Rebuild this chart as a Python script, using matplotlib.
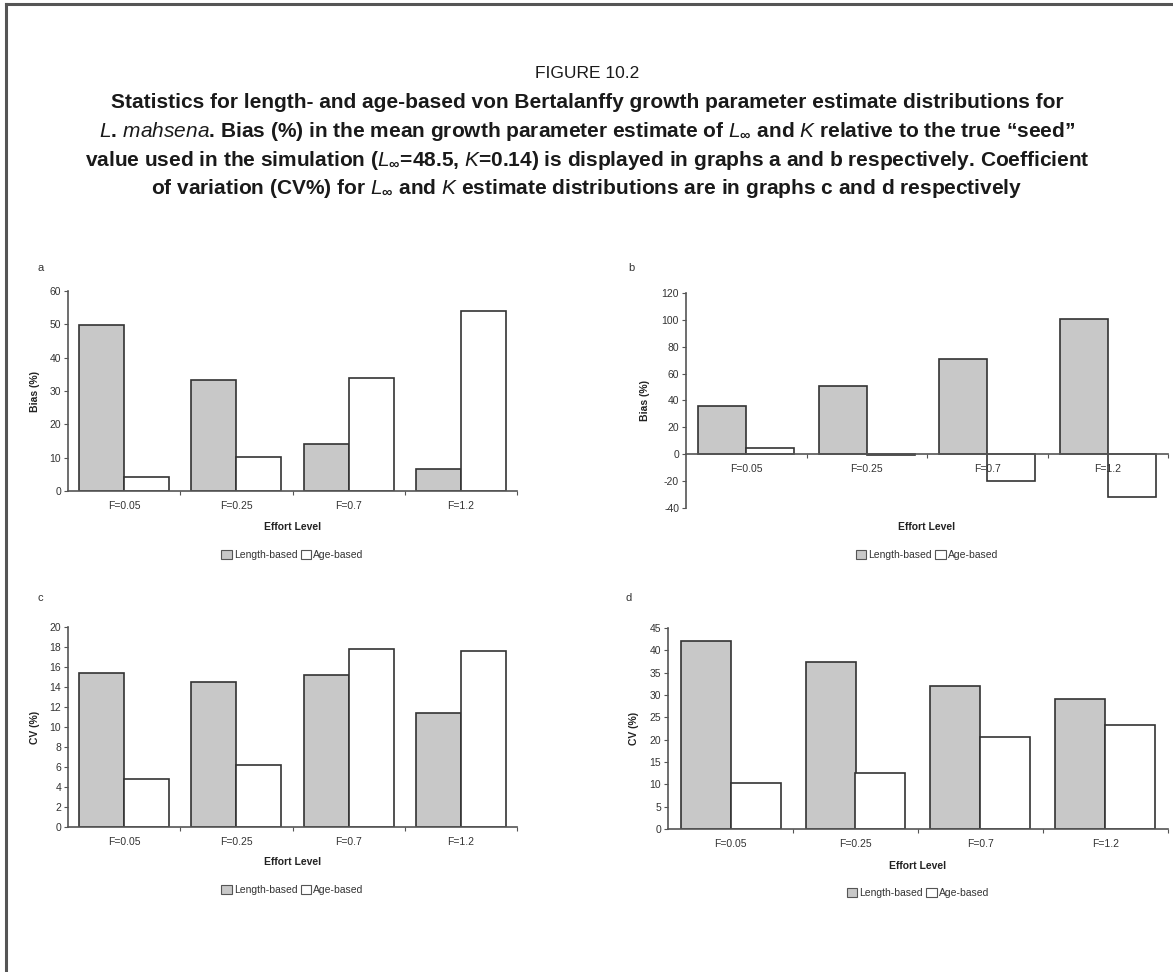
import numpy as np
import matplotlib
matplotlib.use("Agg")
import matplotlib.pyplot as plt
from matplotlib.lines import Line2D
from matplotlib.patches import Patch

# data
efforts = ["F=0.05", "F=0.25", "F=0.7", "F=1.2"]
series = ["Length-based", "Age-based"]

# a: bias of L-inf
a_length = [49.7, 33.4, 14.2, 6.5]
a_age = [4.1, 10.1, 33.8, 53.9]
# b: bias of K
b_length = [36, 50.5, 71, 101]
b_age = [4.5, -0.5, -20, -31.5]
# c: CV of L-inf
c_length = [15.4, 14.5, 15.2, 11.4]
c_age = [4.8, 6.2, 17.8, 17.6]
# d: CV of K
d_length = [42, 37.3, 32, 29]
d_age = [10.3, 12.5, 20.5, 23.2]

plt.rcParams['font.family'] = ['Liberation Sans', 'DejaVu Sans']
plt.rcParams['axes.unicode_minus'] = False
plt.rcParams['mathtext.fontset'] = 'custom'
plt.rcParams['mathtext.it'] = 'Liberation Sans:italic'
plt.rcParams['mathtext.rm'] = 'Liberation Sans:bold'
plt.rcParams['mathtext.bf'] = 'Liberation Sans:bold'

W, H = 1173, 972
fig = plt.figure(figsize=(W / 100, H / 100), dpi=100)

# frame lines (top and left, page crop)
fig.add_artist(Line2D([6 / W, 6 / W], [0, 1 - 4 / H], color='#555555', lw=2.2))
fig.add_artist(Line2D([6 / W, 1], [1 - 4 / H, 1 - 4 / H], color='#555555', lw=2.2))

fig.text(587 / W, 1 - 73 / H, "FIGURE 10.2", ha='center', va='center',
         fontsize=12.5, color='#1a1a1a')
lines = [
    "Statistics for length- and age-based von Bertalanffy growth parameter estimate distributions for",
    r"$\mathit{L.\,mahsena}$. Bias (%) in the mean growth parameter estimate of $\mathit{L}_{\infty}$ and $\mathit{K}$ relative to the true " + "\u201cseed\u201d",
    r"value used in the simulation ($\mathit{L}_{\infty}$=48.5, $\mathit{K}$=0.14) is displayed in graphs a and b respectively. Coefficient",
    r"of variation (CV%) for $\mathit{L}_{\infty}$ and $\mathit{K}$ estimate distributions are in graphs c and d respectively",
]
for i, s in enumerate(lines):
    fig.text(587 / W, 1 - (103 + 28.5 * i) / H, s, ha='center', va='center',
             fontsize=15, fontweight='bold', color='#1a1a1a')


def panel(rect, letter, lpos, length, age, ylim, step, ylabel, ylab_x, xlab_y, leg_y, zero_axis=False):
    ax = fig.add_axes([rect[0] / W, 1 - rect[3] / H, (rect[1] - rect[0]) / W, (rect[3] - rect[2]) / H])
    x = np.arange(len(efforts))
    ax.bar(x - 0.2, length, width=0.4, color='#c8c8c8', edgecolor='#333333', lw=1.2, zorder=2)
    ax.bar(x + 0.2, age, width=0.4, color='white', edgecolor='#333333', lw=1.2, zorder=2)
    ax.set_axisbelow(False)
    ax.set_xlim(-0.5, 3.5)
    ax.set_ylim(*ylim)
    ax.set_yticks(np.arange(ylim[0], ylim[1] + step / 2, step))
    for s in ['top', 'right']:
        ax.spines[s].set_visible(False)
    for s in ['left', 'bottom']:
        ax.spines[s].set_color('#555555')
        ax.spines[s].set_linewidth(1.2)
    if zero_axis:
        ax.spines['bottom'].set_position(('data', 0))
    ax.set_xticks([0.5, 1.5, 2.5, 3.5])
    ax.set_xticklabels([])
    ax.tick_params(axis='x', which='major', length=3, color='#555555', direction='out')
    ax.set_xticks(x, minor=True)
    ax.set_xticklabels(efforts, minor=True, fontsize=7.5, color='#333333')
    ax.tick_params(axis='x', which='minor', length=0, pad=7)
    ax.tick_params(axis='y', length=3, labelsize=7.5, labelcolor='#333333', color='#555555', pad=2)
    ax.patch.set_visible(False)

    fig.text(lpos[0] / W, 1 - lpos[1] / H, letter, ha='left', va='center', fontsize=8, color='#333333')
    fig.text(ylab_x / W, 1 - (rect[2] + rect[3]) / 2 / H, ylabel, rotation=90, ha='center', va='center',
             fontsize=7.5, fontweight='bold', color='#222222')
    cx = (rect[0] + rect[1]) / 2
    fig.text(cx / W, 1 - xlab_y / H, "Effort Level", ha='center', va='center',
             fontsize=7.5, fontweight='bold', color='#222222')
    handles = [Patch(facecolor='#c8c8c8', edgecolor='#555555', lw=0.8),
               Patch(facecolor='white', edgecolor='#555555', lw=0.8)]
    fig.legend(handles, series, loc='center', bbox_to_anchor=(cx / W, 1 - leg_y / H), ncol=2,
               frameon=False, fontsize=7.5, handlelength=1.0, handleheight=1.0,
               handletextpad=0.2, columnspacing=0.3, labelcolor='#333333')
    return ax


panel((68, 517, 291, 491), "a", (38, 268), a_length, a_age, (0, 60), 10, "Bias (%)", 35, 527, 555)
panel((686, 1168, 293, 508), "b", (628, 268), b_length, b_age, (-40, 120), 20, "Bias (%)", 645, 527, 555,
      zero_axis=True)
panel((68, 517, 627, 827), "c", (38, 598), c_length, c_age, (0, 20), 2, "CV (%)", 35, 862, 890)
panel((668, 1168, 628, 829), "d", (626, 598), d_length, d_age, (0, 45), 5, "CV (%)", 634, 866, 893)

fig.savefig("out.png", dpi=100)
